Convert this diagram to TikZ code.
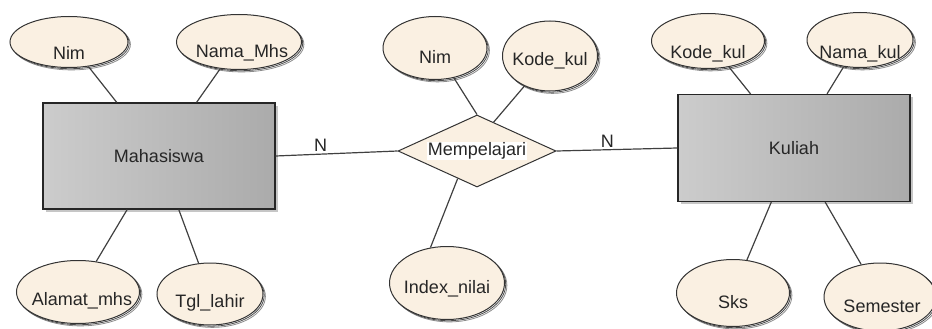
\documentclass[tikz,border=0pt]{standalone}
\usepackage{fontspec}
\setmainfont{Liberation Sans}
\usepackage{tikz}
\usetikzlibrary{positioning,shapes.geometric,shadows}
\definecolor{cream}{RGB}{250,240,226}

\begin{document}
\begin{tikzpicture}[x=1pt,y=-1pt,
            attr/.style={
                ellipse,
                draw=black!80,
                line width=1pt,
                fill=cream,
                inner sep=0pt,
                copy shadow={shadow xshift=2.4pt,shadow yshift=-2.4pt,draw=black!45,fill=white,line width=.8pt},
                copy shadow={shadow xshift=1.2pt,shadow yshift=-1.2pt,draw=black!70,fill=white,line width=.8pt}
            },
            lbl/.style={font=\fontsize{18}{20}\selectfont,text=black!85,inner sep=1pt,yshift=-9pt},
            entity/.style={
                rectangle,
                draw=black!85,
                line width=1.2pt,
                left color=black!20,
                right color=black!33,
                minimum width=232pt,
                minimum height=106pt,
                font=\fontsize{18}{20}\selectfont,
                text=black!85,
                drop shadow={shadow xshift=2.5pt,shadow yshift=-2.5pt,opacity=.45}
            },
            rel/.style={
                diamond,
                draw=black!80,
                line width=1pt,
                fill=cream,
                inner sep=0pt,
                minimum width=158pt,
                minimum height=72pt
            },
            card/.style={font=\fontsize{18}{20}\selectfont,text=black!85,inner sep=2pt},
            link/.style={draw=black!75,line width=1.2pt}]
    \useasboundingbox (0,0) rectangle (932,329);

    % entities and relation
    \node[entity] (mhs) at (159,156) {Mahasiswa};
    \node[entity,minimum height=107pt] (kul) at (794,148) {Kuliah};
    \node[rel,label={[lbl,yshift=9pt,fill=white]center:Mempelajari}] (bel) at (477,151) {};

    % attributes of Mahasiswa
    \node[attr,minimum width=118pt,minimum height=51pt,label={[lbl,yshift=-2pt]center:Nim}] (nim) at (69,42) {};
    \node[attr,minimum width=125pt,minimum height=55pt,label={[lbl,yshift=-2pt,xshift=3pt]center:Nama\_Mhs}] (nama) at (239,42) {};
    \node[attr,minimum width=123pt,minimum height=63pt,label={[lbl,xshift=4pt]center:Alamat\_mhs}] (alamat) at (78,292) {};
    \node[attr,minimum width=106pt,minimum height=62pt,label={[lbl]center:Tgl\_lahir}] (tgl) at (210,294) {};

    % attributes of Mempelajari
    \node[attr,minimum width=104pt,minimum height=63pt,label={[lbl]center:Nim}] (nimb) at (435,48) {};
    \node[attr,minimum width=95pt,minimum height=70pt,label={[lbl,yshift=4pt]center:Kode\_kul}] (kodeb) at (550,56) {};
    \node[attr,minimum width=115pt,minimum height=73pt,label={[lbl,yshift=3pt]center:Index\_nilai}] (idx) at (447,283) {};

    % attributes of Kuliah
    \node[attr,minimum width=113pt,minimum height=55pt,label={[lbl,yshift=-4pt]center:Kode\_kul}] (kode) at (708,41) {};
    \node[attr,minimum width=106pt,minimum height=55pt,label={[lbl,yshift=-5pt]center:Nama\_kul}] (namak) at (860,40) {};
    \node[attr,minimum width=113pt,minimum height=67pt,label={[lbl]center:Sks}] (sks) at (733,293) {};
    \node[attr,minimum width=112pt,minimum height=68pt,label={[lbl,xshift=2pt]center:Semester}] (smt) at (880,297) {};

    % connectors
    \draw[link] (nim) -- (mhs);
    \draw[link] (nama) -- (mhs);
    \draw[link] (alamat) -- (mhs);
    \draw[link] (tgl) -- (mhs);
    \draw[link] (nimb) -- (bel.north);
    \draw[link] (kodeb) -- (bel.60);
    \draw[link] (bel.235) -- (idx.115);
    \draw[link] (kode) -- (kul);
    \draw[link] (namak) -- (kul);
    \draw[link] (sks) -- (kul);
    \draw[link] (smt) -- (kul);
    \draw[link] (mhs.east) -- node[card,above,pos=0.37] {N} (bel.west);
    \draw[link] (bel.east) -- node[card,above,pos=0.42] {N} (kul.west);
\end{tikzpicture}
\end{document}
